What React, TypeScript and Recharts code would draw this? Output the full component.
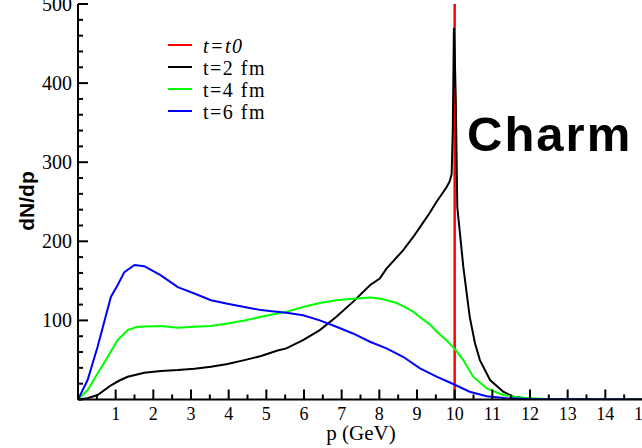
import { LineChart, Line, XAxis, YAxis } from 'recharts'

// p (GeV) tick positions, majors on whole numbers
const xTicks = [0, 0.5, 1, 1.5, 2, 2.5, 3, 3.5, 4, 4.5, 5, 5.5, 6, 6.5, 7, 7.5, 8, 8.5, 9, 9.5, 10, 10.5, 11, 11.5, 12, 12.5, 13, 13.5, 14, 14.5, 15]
const yTicks = [0, 20, 40, 60, 80, 100, 120, 140, 160, 180, 200, 220, 240, 260, 280, 300, 320, 340, 360, 380, 400, 420, 440, 460, 480, 500]
const yMajor = [100, 200, 300, 400, 500]

const t0Data = [
  { p: 10, v: 0 },
  { p: 10, v: 500 },
]

const t2Data = [
  { p: 0, v: 0 }, { p: 0.25, v: 1.5 }, { p: 0.52, v: 5.7 }, { p: 0.875, v: 18 }, { p: 1.1, v: 24 },
  { p: 1.32, v: 28.8 }, { p: 1.76, v: 33.9 }, { p: 2.2, v: 36 }, { p: 2.65, v: 37.2 }, { p: 3.09, v: 39 },
  { p: 3.53, v: 41.4 }, { p: 3.97, v: 44.8 }, { p: 4.42, v: 49.8 }, { p: 4.86, v: 55 }, { p: 5.3, v: 62 },
  { p: 5.53, v: 64.6 }, { p: 5.975, v: 75 }, { p: 6.42, v: 87.7 }, { p: 6.86, v: 104.5 }, { p: 7.3, v: 123.4 },
  { p: 7.75, v: 144.5 }, { p: 8.01, v: 153 }, { p: 8.19, v: 165.5 }, { p: 8.63, v: 188.6 }, { p: 8.9, v: 205.5 },
  { p: 9.08, v: 218 }, { p: 9.34, v: 236 }, { p: 9.52, v: 250 }, { p: 9.78, v: 268 }, { p: 9.87, v: 276 },
  { p: 9.92, v: 285 }, { p: 9.95, v: 340 }, { p: 9.98, v: 470 }, { p: 10.0, v: 440 }, { p: 10.03, v: 378 },
  { p: 10.07, v: 243 }, { p: 10.14, v: 210 }, { p: 10.23, v: 167.6 }, { p: 10.32, v: 134 }, { p: 10.4, v: 104.5 },
  { p: 10.54, v: 71 }, { p: 10.67, v: 49.8 }, { p: 10.94, v: 24.6 }, { p: 11.29, v: 9.8 }, { p: 11.55, v: 3.4 },
  { p: 12, v: 1 }, { p: 13, v: 0.2 }, { p: 15, v: 0 },
]

const t4Data = [
  { p: 0, v: 0 }, { p: 0.255, v: 12 }, { p: 0.52, v: 33 }, { p: 0.79, v: 54 }, { p: 1.05, v: 75 },
  { p: 1.32, v: 87.7 }, { p: 1.58, v: 92 }, { p: 2.2, v: 93 }, { p: 2.65, v: 90.6 }, { p: 3.09, v: 92 },
  { p: 3.53, v: 93 }, { p: 3.97, v: 96 }, { p: 4.42, v: 100 }, { p: 4.86, v: 104.5 }, { p: 5.3, v: 108.8 },
  { p: 5.53, v: 110.8 }, { p: 5.975, v: 117 }, { p: 6.42, v: 122 }, { p: 6.86, v: 125.5 }, { p: 7.3, v: 127.5 },
  { p: 7.75, v: 129 }, { p: 8.01, v: 127.7 }, { p: 8.19, v: 125.5 }, { p: 8.46, v: 122 }, { p: 8.63, v: 118 },
  { p: 8.9, v: 111 }, { p: 9.08, v: 104 }, { p: 9.34, v: 95 }, { p: 9.52, v: 86 }, { p: 9.78, v: 75 },
  { p: 10.0, v: 64 }, { p: 10.23, v: 49.8 }, { p: 10.49, v: 28.8 }, { p: 10.85, v: 14 }, { p: 11.29, v: 5.7 },
  { p: 11.7, v: 2.5 }, { p: 12.3, v: 0.8 }, { p: 13, v: 0.3 }, { p: 15, v: 0 },
]

const t6Data = [
  { p: 0, v: 0 }, { p: 0.255, v: 24.6 }, { p: 0.52, v: 66.6 }, { p: 0.875, v: 130 }, { p: 1.05, v: 144.5 },
  { p: 1.23, v: 161 }, { p: 1.5, v: 170 }, { p: 1.76, v: 168.5 }, { p: 1.89, v: 165 }, { p: 2.2, v: 157 },
  { p: 2.65, v: 142 }, { p: 3.09, v: 134 }, { p: 3.53, v: 125.5 }, { p: 3.97, v: 121 }, { p: 4.42, v: 117 },
  { p: 4.86, v: 113 }, { p: 5.09, v: 112 }, { p: 5.53, v: 109.6 }, { p: 5.975, v: 106.6 }, { p: 6.42, v: 100 },
  { p: 6.86, v: 92 }, { p: 7.3, v: 83.5 }, { p: 7.75, v: 73 }, { p: 8.19, v: 64.6 }, { p: 8.63, v: 54 },
  { p: 9.08, v: 39.4 }, { p: 9.52, v: 28.8 }, { p: 9.96, v: 19.6 }, { p: 10.4, v: 9.8 }, { p: 10.85, v: 4 },
  { p: 11.38, v: 1.5 }, { p: 12, v: 0.5 }, { p: 13, v: 0.2 }, { p: 15, v: 0 },
]

const legendItems = [
  { label: 't=t0', color: '#ff0000', italic: true },
  { label: 't=2 fm', color: '#000000', italic: false },
  { label: 't=4 fm', color: '#00ff00', italic: false },
  { label: 't=6 fm', color: '#0000ff', italic: false },
]

const SERIF = '"Liberation Serif", "Times New Roman", serif'
const SANS = '"Liberation Sans", Arial, sans-serif'

const isMajorX = (v: number) => Number.isInteger(v)
const isMajorY = (v: number) => yMajor.includes(v)

function BottomTick({ x, y, payload }: any) {
  const v = payload.value
  const major = isMajorX(v)
  return (
    <g>
      <line x1={x} y1={y} x2={x} y2={y - (major ? 10 : 5)} stroke="#000" strokeWidth={2} />
      {major && v > 0 && (
        <text x={x} y={y + 20} textAnchor="middle" fontSize={18} fontFamily={SERIF} fill="#000">
          {v}
        </text>
      )}
    </g>
  )
}

function TopTick({ x, y, payload }: any) {
  const major = isMajorX(payload.value)
  return <line x1={x} y1={y} x2={x} y2={y + (major ? 10 : 5)} stroke="#000" strokeWidth={2} />
}

function LeftTick({ x, y, payload }: any) {
  const v = payload.value
  const major = isMajorY(v)
  return (
    <g>
      <line x1={x} y1={y} x2={x + (major ? 10 : 5)} y2={y} stroke="#000" strokeWidth={2} />
      {major && (
        <text x={x - 6} y={y + 7} textAnchor="end" fontSize={20} fontFamily={SERIF} fill="#000">
          {v}
        </text>
      )}
    </g>
  )
}

function RightTick({ x, y, payload }: any) {
  const major = isMajorY(payload.value)
  return <line x1={x} y1={y} x2={x - (major ? 10 : 5)} y2={y} stroke="#000" strokeWidth={2} />
}

export default function App() {
  return (
    <div style={{ position: 'absolute', left: 0, top: 0, width: 642, height: 448, overflow: 'hidden', background: '#fff' }}>
      <LineChart width={700} height={448} margin={{ top: 4, right: 57, left: 0, bottom: 0 }}>
        <XAxis
          dataKey="p"
          type="number"
          domain={[0, 15]}
          ticks={xTicks}
          interval={0}
          allowDataOverflow
          height={48.5}
          tickSize={0}
          tickMargin={0}
          tickLine={false}
          tick={<BottomTick />}
          axisLine={{ stroke: '#000', strokeWidth: 2 }}
        />
        <XAxis
          xAxisId="top"
          orientation="top"
          dataKey="p"
          type="number"
          domain={[0, 15]}
          ticks={xTicks}
          interval={0}
          allowDataOverflow
          height={0}
          tickSize={0}
          tickMargin={0}
          tickLine={false}
          tick={<TopTick />}
          axisLine={false}
        />
        <YAxis
          type="number"
          domain={[0, 500]}
          ticks={yTicks}
          interval={0}
          allowDataOverflow
          width={78}
          tickSize={0}
          tickMargin={0}
          tickLine={false}
          tick={<LeftTick />}
          axisLine={{ stroke: '#000', strokeWidth: 2 }}
        />
        <YAxis
          yAxisId="right"
          orientation="right"
          type="number"
          domain={[0, 500]}
          ticks={yTicks}
          interval={0}
          allowDataOverflow
          width={0}
          tickSize={0}
          tickMargin={0}
          tickLine={false}
          tick={<RightTick />}
          axisLine={{ stroke: '#000', strokeWidth: 2 }}
        />
        <Line data={t0Data} dataKey="v" type="linear" stroke="#ff0000" strokeWidth={2.5} dot={false} isAnimationActive={false} />
        <Line data={t2Data} dataKey="v" type="linear" stroke="#000000" strokeWidth={2} dot={false} isAnimationActive={false} />
        <Line data={t4Data} dataKey="v" type="linear" stroke="#00ff00" strokeWidth={2} dot={false} isAnimationActive={false} />
        <Line data={t6Data} dataKey="v" type="linear" stroke="#0000ff" strokeWidth={2} dot={false} isAnimationActive={false} />
      </LineChart>
      <svg width={642} height={448} style={{ position: 'absolute', left: 0, top: 0, pointerEvents: 'none' }}>
        {legendItems.map((item, i) => (
          <g key={item.label}>
            <line x1={168} x2={192} y1={45 + i * 22} y2={45 + i * 22} stroke={item.color} strokeWidth={2} />
            <text
              x={203}
              y={52.5 + i * 22}
              fontSize={20}
              fontFamily={SERIF}
              fontStyle={item.italic ? 'italic' : 'normal'}
              letterSpacing={1.5}
              fill="#000"
            >
              {item.label}
            </text>
          </g>
        ))}
        <text x={361} y={440} textAnchor="middle" fontSize={21} fontFamily={SERIF} fill="#000">
          p (GeV)
        </text>
        <text
          x={0}
          y={0}
          transform="translate(34 201) rotate(-90)"
          textAnchor="middle"
          fontSize={21}
          fontWeight="bold"
          fontFamily={SANS}
          fill="#000"
        >
          dN/dp
        </text>
        <text x={467} y={151} fontSize={49} fontWeight="bold" fontFamily={SANS} letterSpacing={2} fill="#000">
          Charm
        </text>
      </svg>
    </div>
  )
}
